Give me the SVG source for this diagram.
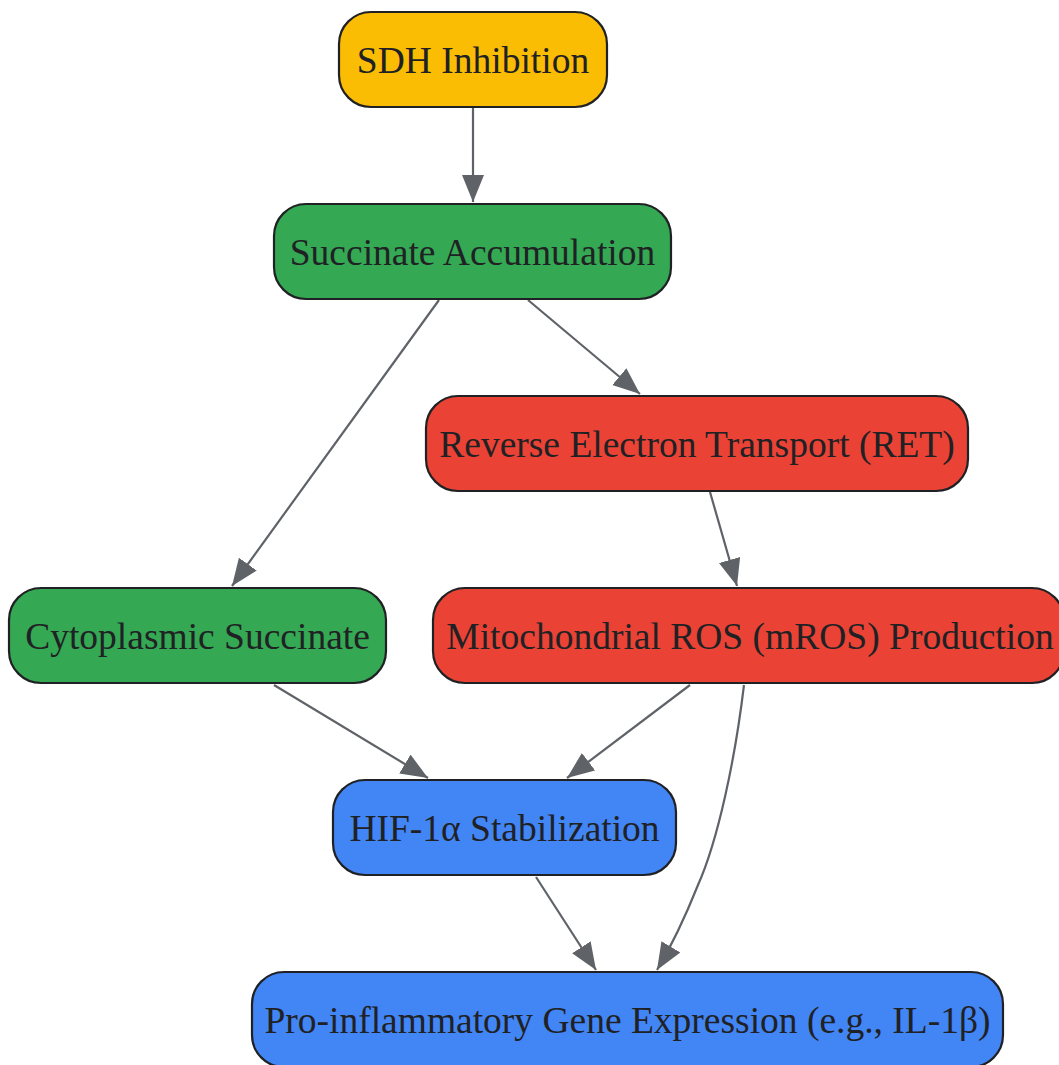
<svg xmlns="http://www.w3.org/2000/svg" width="1059" height="1065" viewBox="0 0 1059 1065">
<defs>
<style>
.n rect{stroke:#202124;stroke-width:2.2}
.n text{font-family:"Liberation Serif","Times New Roman",serif;font-size:37.5px;fill:#202124;text-anchor:middle}
.y{fill:#FBBC04}.g{fill:#34A853}.r{fill:#EA4335}.b{fill:#4285F4}
#edges path{fill:none;stroke:#5F6368;stroke-width:2.2;marker-end:url(#ah)}
</style>
<marker id="ah" markerUnits="userSpaceOnUse" markerWidth="28" markerHeight="24" refX="27" refY="11" orient="auto" viewBox="0 0 28 24">
<path d="M0,0 L27,11 L0,22 z" fill="#5F6368"/>
</marker>
</defs>
<rect width="1059" height="1065" fill="#ffffff"/>
<g id="edges">
<path d="M473,107 L473,202"/>
<path d="M439,300 L232,586"/>
<path d="M528,300 L640,394"/>
<path d="M710,492 L737,586"/>
<path d="M274,685 L428,778"/>
<path d="M690,685 L567,778"/>
<path d="M744,685 C735,760 718,840 698,885 C688,910 675,940 657,970"/>
<path d="M536,877 L596,970"/>
</g>
<g id="n1" class="n"><rect class="y" x="339" y="12" width="268" height="95" rx="32"/><text x="473" y="73">SDH Inhibition</text></g>
<g id="n2" class="n"><rect class="g" x="274" y="204" width="397" height="95" rx="32"/><text x="472.5" y="265">Succinate Accumulation</text></g>
<g id="n3" class="n"><rect class="r" x="426" y="396" width="542" height="95" rx="32"/><text x="697" y="457">Reverse Electron Transport (RET)</text></g>
<g id="n4" class="n"><rect class="g" x="9" y="588" width="377" height="95" rx="32"/><text x="197.5" y="649">Cytoplasmic Succinate</text></g>
<g id="n5" class="n"><rect class="r" x="433" y="588" width="631" height="95" rx="32"/><text x="750" y="649">Mitochondrial ROS (mROS) Production</text></g>
<g id="n6" class="n"><rect class="b" x="333" y="780" width="343" height="95" rx="32"/><text x="504.5" y="841">HIF-1α Stabilization</text></g>
<g id="n7" class="n"><rect class="b" x="252" y="972" width="751" height="95" rx="32"/><text x="627.5" y="1033">Pro-inflammatory Gene Expression (e.g., IL-1β)</text></g>
</svg>
